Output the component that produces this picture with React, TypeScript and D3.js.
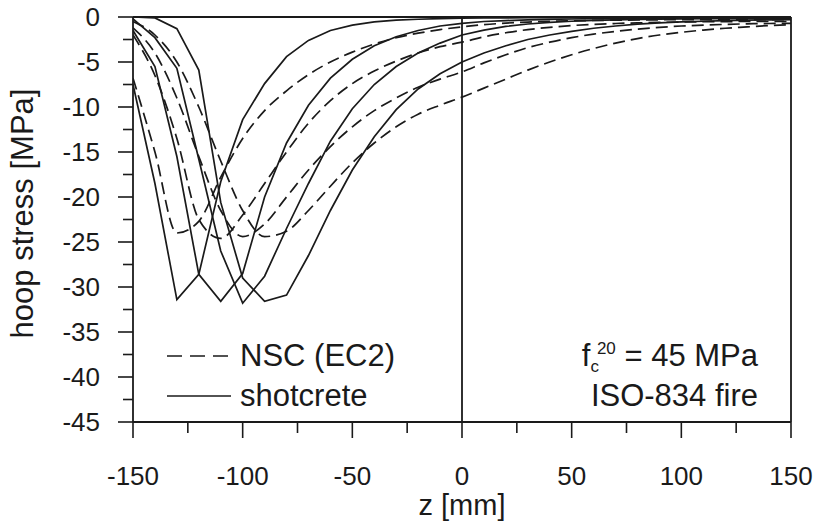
import React from "react";
import * as d3 from "d3";

const zValues = [-150, -140, -130, -120, -110, -100, -90, -80, -70, -60, -50, -40, -30, -20, -10, 0, 10, 20, 30, 40, 50, 60, 70, 80, 90, 100, 110, 120, 130, 140, 150];

// shotcrete (solid)
const shotcrete1 = [-7.5, -18.5, -31.4, -28.6, -18.3, -11.4, -7.4, -4.4, -2.6, -1.5, -0.9, -0.55, -0.35, -0.25, -0.18, -0.14, -0.11, -0.09, -0.08, -0.07, -0.06, -0.06, -0.05, -0.05, -0.05, -0.04, -0.04, -0.04, -0.04, -0.04, -0.04];
const shotcrete2 = [-1.5, -5.5, -15.5, -28.6, -31.6, -28.5, -20.0, -14.0, -9.8, -6.8, -4.7, -3.2, -2.2, -1.5, -1.0, -0.7, -0.5, -0.4, -0.32, -0.26, -0.22, -0.19, -0.17, -0.15, -0.14, -0.13, -0.12, -0.11, -0.1, -0.1, -0.1];
const shotcrete3 = [-0.2, -2.3, -5.7, -15.8, -26.0, -31.8, -28.8, -23.5, -18.5, -13.8, -10.2, -7.5, -5.5, -4.0, -2.9, -2.0, -1.45, -1.05, -0.78, -0.6, -0.47, -0.38, -0.32, -0.27, -0.24, -0.21, -0.19, -0.17, -0.16, -0.15, -0.14];
const shotcrete4 = [0, -0.1, -1.3, -5.9, -20.6, -29.0, -31.6, -30.9, -26.5, -21.5, -17.0, -13.3, -10.3, -8.0, -6.3, -5.0, -4.0, -3.2, -2.5, -2.0, -1.6, -1.25, -1.0, -0.8, -0.65, -0.55, -0.47, -0.4, -0.35, -0.32, -0.3];

// NSC (EC2) (dashed)
const nsc1 = [-6.8, -15.0, -24.0, -22.7, -17.8, -13.5, -10.4, -8.2, -6.4, -5.0, -3.9, -3.0, -2.3, -1.8, -1.4, -1.1, -0.85, -0.68, -0.56, -0.48, -0.42, -0.38, -0.35, -0.33, -0.31, -0.3, -0.3, -0.3, -0.3, -0.3, -0.3];
const nsc2 = [-2.0, -6.5, -13.5, -22.5, -24.6, -22.0, -18.5, -15.0, -11.8, -9.3, -7.4, -6.0, -4.9, -4.0, -3.3, -2.8, -2.2, -1.75, -1.4, -1.15, -0.95, -0.82, -0.72, -0.65, -0.6, -0.56, -0.53, -0.51, -0.5, -0.5, -0.5];
const nsc3 = [-1.2, -4.0, -9.0, -15.5, -21.5, -24.4, -23.0, -20.0, -17.0, -14.4, -12.2, -10.4, -9.0, -7.8, -6.9, -6.1, -5.1, -4.2, -3.4, -2.8, -2.3, -1.9, -1.6, -1.35, -1.15, -1.0, -0.9, -0.82, -0.76, -0.72, -0.7];
const nsc4 = [-0.5, -2.0, -5.0, -10.0, -16.0, -21.5, -24.4, -23.8, -21.5, -18.8, -16.2, -14.0, -12.2, -10.8, -9.8, -8.9, -7.9, -6.9, -5.9, -5.0, -4.2, -3.5, -2.9, -2.4, -2.0, -1.7, -1.45, -1.25, -1.1, -0.95, -0.85];

const solidSeries = [shotcrete1, shotcrete2, shotcrete3, shotcrete4];
const dashedSeries = [nsc1, nsc2, nsc3, nsc4];

const xTicks = [-150, -100, -50, 0, 50, 100, 150];
const xMinorTicks = [-125, -75, -25, 25, 75, 125];
const yTicks = [0, -5, -10, -15, -20, -25, -30, -35, -40, -45];
const yMinorTicks = [-2.5, -7.5, -12.5, -17.5, -22.5, -27.5, -32.5, -37.5, -42.5];

const FONT = "'Liberation Sans', Arial, sans-serif";
const INK = "#1a1a1a";

export default function App() {
  const x = d3.scaleLinear().domain([-150, 150]).range([133, 791]);
  const y = d3.scaleLinear().domain([-45, 0]).range([422, 17]);

  const solidLine = d3
    .line<number>()
    .x((_, i) => x(zValues[i]))
    .y((d) => y(d))
    .curve(d3.curveLinear);
  const dashedLine = d3
    .line<number>()
    .x((_, i) => x(zValues[i]))
    .y((d) => y(d))
    .curve(d3.curveMonotoneX);

  const [x0, x1] = x.range();
  const [yb, yt] = y.range();

  return (
    <svg
      width={814}
      height={523}
      style={{ position: "absolute", left: 0, top: 0, background: "#fff" }}
      fontFamily={FONT}
    >
      <rect x={0} y={0} width={814} height={523} fill="#fff" />
      <defs>
        <clipPath id="plotclip">
          <rect x={x0} y={yt - 1} width={x1 - x0} height={yb - yt + 1} />
        </clipPath>
      </defs>

      {/* curves */}
      <g clipPath="url(#plotclip)" fill="none" stroke={INK} strokeWidth={1.7}>
        {dashedSeries.map((s, i) => (
          <path key={"d" + i} d={dashedLine(s) || ""} strokeDasharray="12,6" />
        ))}
        {solidSeries.map((s, i) => (
          <path key={"s" + i} d={solidLine(s) || ""} />
        ))}
      </g>

      {/* frame */}
      <g stroke={INK} strokeWidth={1.8} fill="none">
        <line x1={x0} y1={yt} x2={x1} y2={yt} />
        <line x1={x1} y1={yt} x2={x1} y2={yb} />
        <line x1={x0} y1={yt} x2={x0} y2={yb} />
        <line x1={x0} y1={yb} x2={x1} y2={yb} />
        <line x1={x(0)} y1={yt} x2={x(0)} y2={yb} />
      </g>

      {/* ticks */}
      <g stroke={INK} strokeWidth={1.6}>
        {xTicks.map((t) => (
          <line key={"xt" + t} x1={x(t)} x2={x(t)} y1={yb} y2={yb + 16} />
        ))}
        {xMinorTicks.map((t) => (
          <line key={"xm" + t} x1={x(t)} x2={x(t)} y1={yb} y2={yb + 11} />
        ))}
        {yTicks.map((t) => (
          <line key={"yt" + t} x1={x0 - 15} x2={x0} y1={y(t)} y2={y(t)} />
        ))}
        {yMinorTicks.map((t) => (
          <line key={"ym" + t} x1={x0 - 10} x2={x0} y1={y(t)} y2={y(t)} />
        ))}
      </g>

      {/* tick labels */}
      <g fill={INK} fontSize={26}>
        {xTicks.map((t) => (
          <text key={"xl" + t} x={x(t)} y={485} textAnchor="middle">
            {t}
          </text>
        ))}
        {yTicks.map((t) => (
          <text key={"yl" + t} x={100} y={y(t)} textAnchor="end" dominantBaseline="central">
            {t}
          </text>
        ))}
      </g>

      {/* axis titles */}
      <text x={x(0)} y={515} textAnchor="middle" fontSize={29} fill={INK}>
        z [mm]
      </text>
      <text
        transform={`translate(33, ${(yt + yb) / 2 - 6}) rotate(-90)`}
        textAnchor="middle"
        fontSize={31}
        fill={INK}
      >
        hoop stress [MPa]
      </text>

      {/* legend */}
      <g stroke={INK} strokeWidth={1.7}>
        <line x1={167} x2={231} y1={356} y2={356} strokeDasharray="15,8" />
        <line x1={167} x2={231} y1={396} y2={396} />
      </g>
      <g fill={INK} fontSize={31}>
        <text x={240} y={366}>NSC (EC2)</text>
        <text x={240} y={406}>shotcrete</text>
        <text x={758} y={366} textAnchor="end">
          f<tspan fontSize={17} dy={6}>c</tspan>
          <tspan fontSize={17} dy={-18} dx={-2}>20</tspan>
          <tspan dy={12}> = 45 MPa</tspan>
        </text>
        <text x={758} y={406} textAnchor="end">ISO-834 fire</text>
      </g>
    </svg>
  );
}
